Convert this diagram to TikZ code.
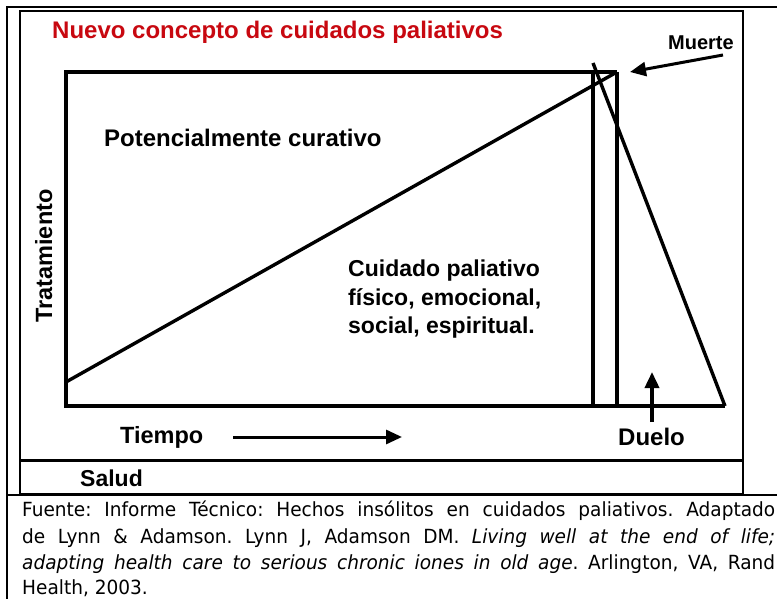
\documentclass[tikz,border=0pt]{standalone}
\usepackage{fontspec}
\setmainfont{Liberation Sans}
\newfontfamily\capfont[FakeStretch=0.95]{DejaVu Sans}
\usetikzlibrary{arrows.meta}
\definecolor{titlered}{RGB}{200,8,16}
\frenchspacing
\tikzset{
  frameline/.style={line width=2.2pt},
  plotline/.style={line width=4pt, line join=miter},
  diagline/.style={line width=3.4pt},
  lbl/.style={inner sep=0pt, anchor=base west, font=\bfseries\fontsize{23.5}{27}\selectfont},
  arrowline/.style={line width=3pt, -{Triangle[length=16pt,width=14pt]}},
  capline/.style={inner sep=0pt, anchor=base west, font=\capfont\fontsize{19.5}{23}\selectfont},
}
\begin{document}
\begin{tikzpicture}[x=1pt,y=-1pt]
\useasboundingbox (0,0) rectangle (777,599);
\fill[white] (0,0) rectangle (777,599);

% frames
\draw[frameline] (777,7) -- (7,7) -- (7,599);
\draw[frameline] (7,495) -- (777,495);
\draw[frameline] (20,11) rectangle (743,494);
\draw[line width=3pt] (20,460) -- (743,460);

% plot coordinates
\coordinate (TL) at (66,72);
\coordinate (TR) at (617,72);
\coordinate (BL) at (66,406);
\coordinate (BR) at (617,406);
\coordinate (END) at (725,406);
\coordinate (VT) at (593,72);
\coordinate (VB) at (593,406);
\coordinate (PK) at (593,63);
\coordinate (ST) at (66,382);

\draw[plotline] (TR) -- (TL) -- (BL) -- (END);
\draw[plotline] (TR) -- (BR);
\draw[plotline] (VT) -- (VB);
\draw[diagline] (ST) -- (TR);
\draw[diagline] (PK) -- (END);

% title and labels
\node[lbl, text=titlered, font=\bfseries\fontsize{24}{28}\selectfont] (title) at (52,39) {Nuevo concepto de cuidados paliativos};
\node[lbl, font=\bfseries\fontsize{24}{28}\selectfont] (pot) at (104,147) {Potencialmente curativo};
\node[lbl, font=\bfseries\fontsize{23}{27}\selectfont] (c1) at (348,276) {Cuidado paliativo};
\node[lbl, font=\bfseries\fontsize{23}{27}\selectfont] (c2) at (348,305) {físico, emocional,};
\node[lbl, font=\bfseries\fontsize{23}{27}\selectfont] (c3) at (348,333) {social, espiritual.};
\node[lbl] (tiempo) at (120,443) {Tiempo};
\node[lbl, font=\bfseries\fontsize{23}{27}\selectfont] (salud) at (80,486) {Salud};
\node[lbl, font=\bfseries\fontsize{24}{28}\selectfont] (duelo) at (618,445) {Duelo};
\node[lbl, font=\bfseries\fontsize{20}{24}\selectfont] (muerte) at (668,50) {Muerte};
\node[inner sep=0pt, anchor=base, rotate=90, font=\bfseries\fontsize{23.5}{27}\selectfont] (trat) at (52,256) {Tratamiento};

% arrows
\coordinate (mA) at (723,55);
\coordinate (mB) at (630,72);
\draw[arrowline] (mA) -- (mB);
\coordinate (tA) at (233,437);
\coordinate (tB) at (402,437);
\draw[arrowline] (tA) -- (tB);
\coordinate (dA) at (652,422);
\coordinate (dB) at (652,372);
\draw[arrowline, line width=3.6pt] (dA) -- (dB);

% caption
\node[capline] (cap1) at (22,516) {\makebox[753pt][s]{Fuente: Informe Técnico: Hechos insólitos en cuidados paliativos. Adaptado}};
\node[capline] (cap2) at (22,543) {\makebox[753pt][s]{de Lynn \& Adamson. Lynn J, Adamson DM. \itshape Living well at the end of life;}};
\node[capline] (cap3) at (22,569) {\makebox[753pt][s]{\itshape adapting health care to serious chronic iones in old age\upshape. Arlington, VA, Rand}};
\node[capline] (cap4) at (22,594) {Health, 2003.};
\end{tikzpicture}
\end{document}
